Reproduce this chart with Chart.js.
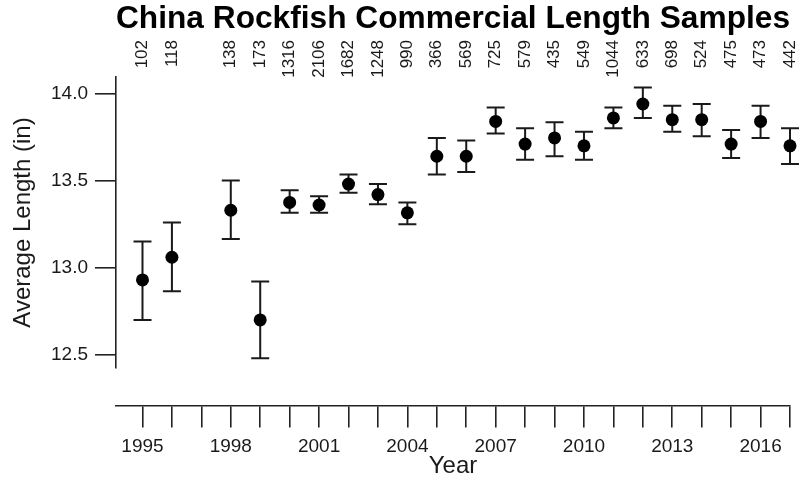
<!DOCTYPE html>
<html>
<head>
<meta charset="utf-8">
<title>China Rockfish Commercial Length Samples</title>
<script src="https://cdn.jsdelivr.net/npm/chart.js@4.4.1/dist/chart.umd.min.js"></script>
<style>
  html, body { margin: 0; padding: 0; background: #fff; }
  #wrap { width: 811px; height: 484px; }
</style>
</head>
<body>
<div id="wrap"><canvas id="lengthChart"></canvas></div>
<script>
// sampled years (no data for 1997)
const years = [1995, 1996, 1998, 1999, 2000, 2001, 2002, 2003, 2004, 2005, 2006,
  2007, 2008, 2009, 2010, 2011, 2012, 2013, 2014, 2015, 2016, 2017];
const meanLength = [12.93, 13.06, 13.33, 12.70, 13.375, 13.36, 13.48, 13.42, 13.315, 13.64, 13.64,
  13.84, 13.71, 13.745, 13.70, 13.86, 13.94, 13.85, 13.85, 13.71, 13.84, 13.70];
const lowerLength = [12.70, 12.865, 13.165, 12.48, 13.315, 13.315, 13.43, 13.365, 13.25, 13.535, 13.55,
  13.77, 13.62, 13.64, 13.62, 13.80, 13.86, 13.78, 13.755, 13.63, 13.745, 13.595];
const upperLength = [13.15, 13.26, 13.50, 12.92, 13.445, 13.41, 13.535, 13.48, 13.375, 13.745, 13.73,
  13.92, 13.80, 13.835, 13.78, 13.92, 14.035, 13.93, 13.94, 13.79, 13.93, 13.80];
const sampleSizes = [102, 118, 138, 173, 1316, 2106, 1682, 1248, 990, 366, 569,
  725, 579, 435, 549, 1044, 633, 698, 524, 475, 473, 442];

const yearTicks = [1995, 1996, 1997, 1998, 1999, 2000, 2001, 2002, 2003, 2004, 2005, 2006,
  2007, 2008, 2009, 2010, 2011, 2012, 2013, 2014, 2015, 2016, 2017];
const yearLabels = [1995, 1998, 2001, 2004, 2007, 2010, 2013, 2016];
const lengthTicks = [12.5, 13.0, 13.5, 14.0];

const FONT = '"Liberation Sans", Arial, sans-serif';
const INK = '#1a1a1a';

// vertical error bars with caps
const errorBars = {
  id: 'errorBars',
  beforeDatasetsDraw(chart) {
    const { ctx, scales: { x, y } } = chart;
    ctx.save();
    ctx.strokeStyle = INK;
    ctx.lineWidth = 2;
    years.forEach((yr, i) => {
      const px = x.getPixelForValue(yr);
      const top = y.getPixelForValue(upperLength[i]);
      const bot = y.getPixelForValue(lowerLength[i]);
      ctx.beginPath();
      ctx.moveTo(px, top);
      ctx.lineTo(px, bot);
      ctx.moveTo(px - 9, top);
      ctx.lineTo(px + 9, top);
      ctx.moveTo(px - 9, bot);
      ctx.lineTo(px + 9, bot);
      ctx.stroke();
    });
    ctx.restore();
  }
};

// sample counts written vertically above each year
const sampleLabels = {
  id: 'sampleLabels',
  afterDraw(chart) {
    const { ctx, scales: { x } } = chart;
    ctx.save();
    ctx.font = '17px ' + FONT;
    ctx.fillStyle = INK;
    ctx.textAlign = 'right';
    ctx.textBaseline = 'middle';
    years.forEach((yr, i) => {
      ctx.save();
      ctx.translate(x.getPixelForValue(yr), 40);
      ctx.rotate(-Math.PI / 2);
      ctx.fillText(String(sampleSizes[i]), 0, 0);
      ctx.restore();
    });
    ctx.restore();
  }
};

const axisGrid = {
  display: true,
  drawOnChartArea: false,
  drawTicks: true,
  tickLength: 21,
  color: '#222',
  lineWidth: 1.6,
};
const axisBorder = { display: true, color: '#222', width: 1.6 };

const ctx = document.getElementById('lengthChart').getContext('2d');

new Chart(ctx, {
  type: 'scatter',
  data: {
    datasets: [
      {
        data: years.map((yr, i) => ({ x: yr, y: meanLength[i] })),
        backgroundColor: '#000',
        borderColor: '#000',
        borderWidth: 0,
        pointRadius: 6.5,
        pointHoverRadius: 6.5,
        clip: false,
      },
    ],
  },
  options: {
    responsive: true,
    maintainAspectRatio: false,
    animation: false,
    layout: { padding: { left: 0, right: 21, top: 0, bottom: 116 } },
    plugins: {
      legend: { display: false },
      tooltip: { enabled: false },
      title: {
        display: true,
        fullSize: false,
        text: 'China Rockfish Commercial Length Samples',
        color: '#000',
        font: { size: 32, weight: 'bold', family: FONT },
        padding: { top: 0, bottom: 38.6 },
      },
    },
    scales: {
      x: {
        type: 'linear',
        min: 1994.1,
        max: 2017,
        position: { y: 12.208 }, // axis detached below the plot
        afterFit: (scale) => { scale.height = 75.4; },
        afterBuildTicks: (scale) => { scale.ticks = yearTicks.map((v) => ({ value: v })); },
        grid: axisGrid,
        border: axisBorder,
        ticks: {
          autoSkip: false,
          maxRotation: 0,
          padding: 9,
          color: INK,
          font: { size: 19, family: FONT },
          callback: (v) => (yearLabels.includes(v) ? String(v) : ''),
        },
        title: {
          display: true,
          text: 'Year',
          color: INK,
          font: { size: 24, family: FONT },
          padding: { top: 0, bottom: 0 },
        },
      },
      y: {
        type: 'linear',
        min: 12.424,
        max: 14.095,
        afterFit: (scale) => { scale.width = 116; },
        afterBuildTicks: (scale) => { scale.ticks = lengthTicks.map((v) => ({ value: v })); },
        grid: axisGrid,
        border: axisBorder,
        ticks: {
          padding: 7,
          color: INK,
          font: { size: 19, family: FONT },
          callback: (v) => v.toFixed(1),
        },
        title: {
          display: true,
          text: 'Average Length (in)',
          color: INK,
          font: { size: 24, family: FONT },
          padding: { top: 8.6, bottom: 0 },
        },
      },
    },
  },
  plugins: [errorBars, sampleLabels],
});
</script>
</body>
</html>
